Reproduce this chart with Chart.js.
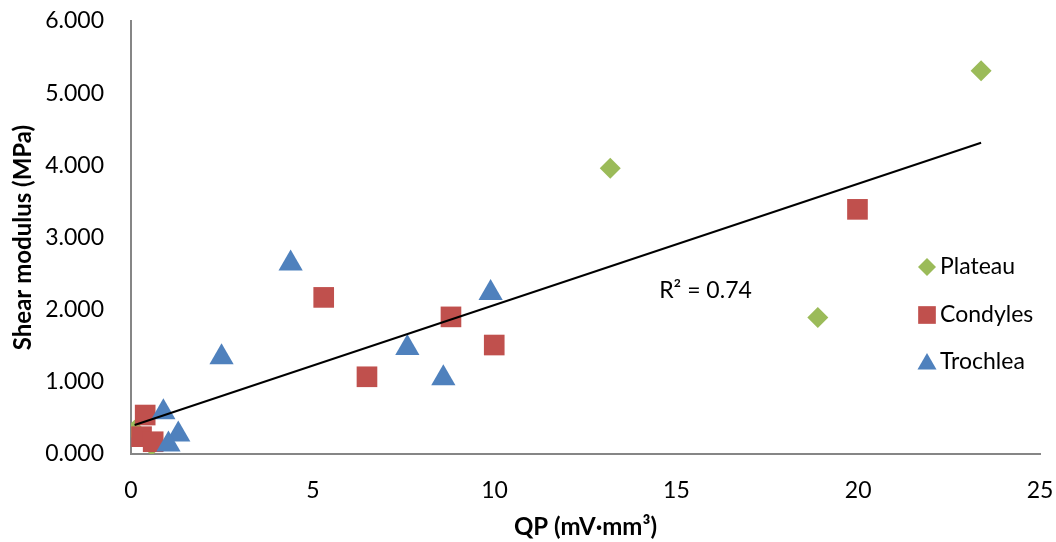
<!DOCTYPE html>
<html>
<head>
<meta charset="utf-8">
<script src="https://cdn.jsdelivr.net/npm/chart.js@4"></script>
<style>
  html, body { margin: 0; padding: 0; background: #fff; }
  #wrap { width: 1056px; height: 542px; }
</style>
</head>
<body>
<div id="wrap"><canvas id="grafica"></canvas></div>
<script>
// values
const plateauX = [23.38, 13.18, 18.89, 0.1, 0.57];
const plateauY = [5.31, 3.96, 1.89, 0.33, 0.12];

const condylesX = [19.98, 5.30, 8.80, 9.99, 6.49, 0.39, 0.29, 0.61];
const condylesY = [3.39, 2.17, 1.90, 1.51, 1.07, 0.54, 0.24, 0.17];

const trochleaX = [2.49, 4.39, 7.60, 8.59, 9.89, 0.89, 1.30, 1.03];
const trochleaY = [1.34, 2.64, 1.47, 1.05, 2.23, 0.58, 0.27, 0.13];

const seriesNames = ['Plateau', 'Condyles', 'Trochlea'];
const xTicks = [0, 5, 10, 15, 20, 25];
const yTicks = [0, 1, 2, 3, 4, 5, 6];
const r2Text = 'R² = 0.74';

const font = 'Lato';
const verde = '#9BBB59';
const rojo = '#C0504D';
const azul = '#4F81BD';
const gris = '#868686';

function puntos(xs, ys) {
    return xs.map((x, i) => ({ x: x, y: ys[i] }));
}

// linear trend over all points
const todosX = plateauX.concat(condylesX, trochleaX);
const todosY = plateauY.concat(condylesY, trochleaY);
const n = todosX.length;
const mx = todosX.reduce((a, b) => a + b, 0) / n;
const my = todosY.reduce((a, b) => a + b, 0) / n;
let sxy = 0, sxx = 0;
for (let i = 0; i < n; i++) {
    sxy += (todosX[i] - mx) * (todosY[i] - my);
    sxx += (todosX[i] - mx) * (todosX[i] - mx);
}
const pendiente = sxy / sxx;
const corte = my - pendiente * mx;
const xMin = Math.min(...todosX);
const xMax = Math.max(...todosX);
const tendencia = [
    { x: xMin, y: corte + pendiente * xMin },
    { x: xMax, y: corte + pendiente * xMax }
];

const estilos = [
    { pointStyle: 'rectRot', radius: 10.5, color: verde, legendRadius: 9 },
    { pointStyle: 'rect', radius: 14.6, color: rojo, legendRadius: 12.5 },
    { pointStyle: 'triangle', radius: 14, color: azul, legendRadius: 11 }
];

// legend sits inside the plot area, like the original
const leyenda = {
    id: 'leyenda',
    afterDraw(chart) {
        const ctx = chart.ctx;
        const filas = [267, 315, 362];
        ctx.save();
        seriesNames.forEach((nombre, i) => {
            const e = estilos[i];
            ctx.fillStyle = e.color;
            Chart.helpers.drawPoint(ctx, {
                pointStyle: e.pointStyle, radius: e.legendRadius, rotation: 0, borderWidth: 0
            }, 927, filas[i] + (e.pointStyle === 'triangle' ? 2 : 0));
            ctx.fillStyle = '#000';
            ctx.font = '23px ' + font;
            ctx.textAlign = 'left';
            ctx.textBaseline = 'middle';
            ctx.fillText(nombre, 940, filas[i]);
        });
        // R² label
        const xs = chart.scales.x, ys = chart.scales.y;
        ctx.textAlign = 'center';
        ctx.fillText(r2Text, xs.getPixelForValue(15.8), ys.getPixelForValue(2.27));
        ctx.restore();
    }
};

const ctx = document.getElementById('grafica').getContext('2d');

const grafica = new Chart(ctx, {
    type: 'scatter',
    data: {
        datasets: [
            {
                label: 'Trend',
                data: tendencia,
                showLine: true,
                borderColor: '#000',
                borderWidth: 2,
                pointRadius: 0,
                pointHoverRadius: 0,
                order: 0
            },
            {
                label: seriesNames[2],
                data: puntos(trochleaX, trochleaY),
                pointStyle: estilos[2].pointStyle,
                pointRadius: estilos[2].radius,
                backgroundColor: azul,
                borderColor: azul,
                borderWidth: 0,
                order: 1
            },
            {
                label: seriesNames[1],
                data: puntos(condylesX, condylesY),
                pointStyle: estilos[1].pointStyle,
                pointRadius: estilos[1].radius,
                backgroundColor: rojo,
                borderColor: rojo,
                borderWidth: 0,
                order: 2
            },
            {
                label: seriesNames[0],
                data: puntos(plateauX, plateauY),
                pointStyle: estilos[0].pointStyle,
                pointRadius: estilos[0].radius,
                backgroundColor: verde,
                borderColor: verde,
                borderWidth: 0,
                order: 3
            }
        ]
    },
    options: {
        responsive: true,
        maintainAspectRatio: false,
        animation: false,
        layout: { padding: { top: 21, right: 16, left: 0, bottom: 0 } },
        plugins: {
            legend: { display: false },
            tooltip: { enabled: false }
        },
        scales: {
            x: {
                type: 'linear',
                min: xTicks[0],
                max: xTicks[xTicks.length - 1],
                afterFit: (s) => { s.height = 88; s.paddingLeft = 0; s.paddingRight = 0; },
                afterBuildTicks: (s) => { s.ticks = xTicks.map(v => ({ value: v })); },
                grid: { display: false, drawTicks: false },
                border: { display: true, color: gris, width: 2 },
                ticks: {
                    color: '#000',
                    font: { family: font, size: 23 },
                    padding: 23,
                    maxRotation: 0
                },
                title: {
                    display: true,
                    text: 'QP (mV·mm³)',
                    color: '#000',
                    font: { family: font, size: 24, weight: 'bold' },
                    padding: { top: 0, bottom: 0 }
                }
            },
            y: {
                type: 'linear',
                min: yTicks[0],
                max: yTicks[yTicks.length - 1],
                afterFit: (s) => { s.width = 131; s.paddingTop = 0; s.paddingBottom = 0; },
                afterBuildTicks: (s) => { s.ticks = yTicks.map(v => ({ value: v })); },
                grid: { display: false, drawTicks: false },
                border: { display: true, color: gris, width: 2 },
                ticks: {
                    color: '#000',
                    font: { family: font, size: 23 },
                    padding: 27,
                    callback: (v) => v.toFixed(3)
                },
                title: {
                    display: true,
                    text: 'Shear modulus (MPa)',
                    color: '#000',
                    font: { family: font, size: 24, weight: 'bold' },
                    padding: { top: 9, bottom: 0 }
                }
            }
        }
    },
    plugins: [leyenda]
});
</script>
</body>
</html>
